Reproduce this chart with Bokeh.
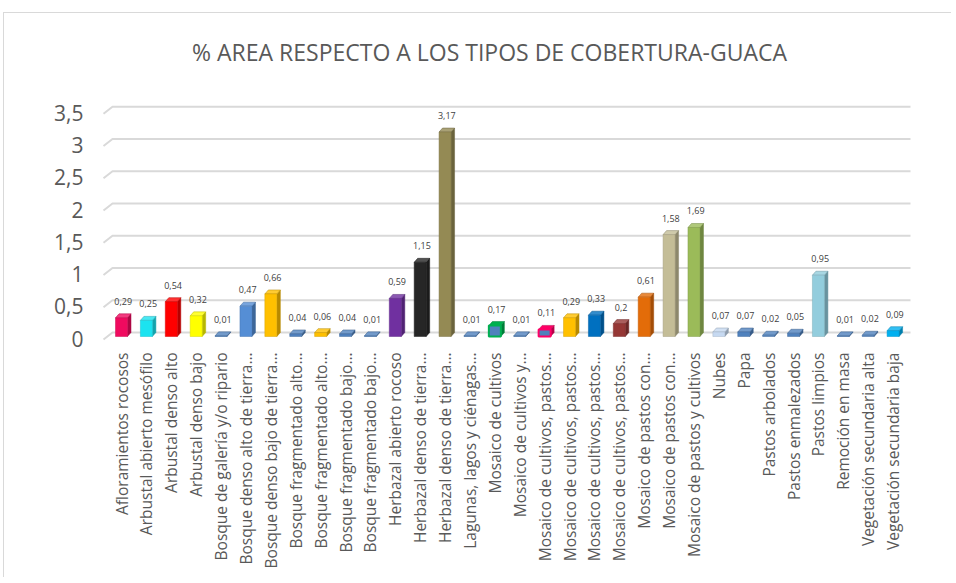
import numpy as np
from bokeh.plotting import figure
from bokeh.models import FixedTicker, LinearAxis, Range1d, ColumnDataSource
from bokeh.embed import file_html
from bokeh.resources import INLINE
from bokeh.core.properties import value

title_text = "% AREA RESPECTO A LOS TIPOS DE COBERTURA-GUACA"

categories = [
    "Afloramientos rocosos", "Arbustal abierto mesófilo", "Arbustal denso alto",
    "Arbustal denso bajo", "Bosque de galería y/o ripario", "Bosque denso alto de tierra…",
    "Bosque denso bajo de tierra…", "Bosque fragmentado alto…", "Bosque fragmentado alto…",
    "Bosque fragmentado bajo…", "Bosque fragmentado bajo…", "Herbazal abierto rocoso",
    "Herbazal denso de tierra…", "Herbazal denso de tierra…", "Lagunas, lagos y ciénagas…",
    "Mosaico de cultivos", "Mosaico de cultivos y…", "Mosaico de cultivos, pastos…",
    "Mosaico de cultivos, pastos…", "Mosaico de cultivos, pastos…", "Mosaico de cultivos, pastos…",
    "Mosaico de pastos con…", "Mosaico de pastos con…", "Mosaico de pastos y cultivos",
    "Nubes", "Papa", "Pastos arbolados", "Pastos enmalezados", "Pastos limpios",
    "Remoción en masa", "Vegetación secundaria alta", "Vegetación secundaria baja",
]

values = [0.29, 0.25, 0.54, 0.32, 0.01, 0.47, 0.66, 0.04, 0.06, 0.04, 0.01, 0.59,
          1.15, 3.17, 0.01, 0.17, 0.01, 0.11, 0.29, 0.33, 0.2, 0.61, 1.58, 1.69,
          0.07, 0.07, 0.02, 0.05, 0.95, 0.01, 0.02, 0.09]

colors = ["#F00A5F", "#1CE3F0", "#FF0000", "#FFFF00", "#4F81BD", "#558ED5", "#FFC000",
          "#4F81BD", "#FFC000", "#4F81BD", "#4F81BD", "#7030A0", "#262626", "#948A54",
          "#4F81BD", "#4F81BD", "#4F81BD", "#4F81BD", "#FFC000", "#0070C0", "#953735",
          "#E36C09", "#C4BD97", "#9BBB59", "#C6D9F1", "#4F81BD", "#4F81BD", "#4F81BD",
          "#93CDDD", "#4F81BD", "#4F81BD", "#00B0F0"]

edge_colors = [None] * 32
edge_colors[15] = "#00B050"
edge_colors[17] = "#FF0066"

y_ticks = [0, 0.5, 1, 1.5, 2, 2.5, 3, 3.5]
y_tick_labels = ["0", "0,5", "1", "1,5", "2", "2,5", "3", "3,5"]


def shade(hexc, f):
    h = hexc.lstrip("#")
    r, g, b = [int(h[i:i + 2], 16) for i in (0, 2, 4)]
    if f < 1:
        r, g, b = [int(c * f) for c in (r, g, b)]
    else:
        t = f - 1
        r, g, b = [int(c + (255 - c) * t) for c in (r, g, b)]
    return "#%02x%02x%02x" % (r, g, b)


PX_X = 24.89          # pixels per category
PX_Y = 64.5           # pixels per unit of value
x_start, x_end = -0.844, 31.78
y_start = -0.1395
y_end = 316 / PX_Y    # frame extended upward to hold the chart title
y_grid_top = 3.659    # visual top of the value area

p = figure(width=948, height=565, output_backend="svg", toolbar_location=None,
           x_range=Range1d(x_start, x_end), y_range=Range1d(y_start, y_end),
           min_border_left=96, min_border_right=40, min_border_top=7, min_border_bottom=233,
           y_axis_location=None, background_fill_color="white", border_fill_color="white")
p.styles = {"border-left": "1px solid #D9D9D9", "border-top": "1px solid #D9D9D9",
            "margin-left": "3px", "margin-top": "12px"}
p.outline_line_color = None
p.xgrid.visible = False
p.ygrid.visible = False

# chart title (text inside the extended frame, centred above the bars)
p.text(x=[x_start + 389 / PX_X], y=[285 / PX_Y], text=[title_text],
       text_align="center", text_baseline="middle", text_font=value("Open Sans"),
       text_font_size="23px", text_color="#595959")

# 3D-like gridlines (back wall, with slanted side-wall segment)
gx, gy = [], []
for v in y_ticks:
    gx.append([x_start + 3 / PX_X, x_start + 12 / PX_X, x_end - 2 / PX_X])
    gy.append([v - 3 / PX_Y, v + 4 / PX_Y, v + 4 / PX_Y])
p.multi_line(gx, gy, line_color="#D9D9D9", line_width=2)

# bars
xs = np.arange(len(values))
hw = 6.0 / PX_X
dx = 3.5 / PX_X
dy = 4.0 / PX_Y

side_xs, side_ys, top_xs, top_ys, side_c, top_c = [], [], [], [], [], []
for i, v in enumerate(values):
    x = xs[i]
    side_xs.append([x + hw, x + hw + dx, x + hw + dx, x + hw])
    side_ys.append([0, dy, v + dy, v])
    top_xs.append([x - hw, x - hw + dx, x + hw + dx, x + hw])
    top_ys.append([v, v + dy, v + dy, v])
    base = edge_colors[i] if edge_colors[i] else colors[i]
    side_c.append(shade(base, 0.72))
    top_c.append(shade(base, 1.2) if not edge_colors[i] else base)

p.patches(side_xs, side_ys, fill_color=side_c, line_color=side_c, line_width=0.5)
p.patches(top_xs, top_ys, fill_color=top_c, line_color=side_c, line_width=0.5)

front = ColumnDataSource(dict(
    left=xs - hw, right=xs + hw, top=values,
    fill=colors,
    line=[e if e else shade(c, 0.85) for e, c in zip(edge_colors, colors)],
    lw=[2 if e else 0.5 for e in edge_colors],
))
p.quad(left="left", right="right", bottom=0, top="top", fill_color="fill",
       line_color="line", line_width="lw", source=front)

labels = ColumnDataSource(dict(
    x=xs + dx / 2, y=[v + dy for v in values],
    t=[str(v).replace(".", ",") for v in values],
))
p.text(x="x", y="y", text="t", source=labels, text_align="center", text_baseline="bottom",
       y_offset=-9, text_font_size="9px", text_color="#404040", text_font=value("Open Sans"))

# x axis
p.xaxis.ticker = FixedTicker(ticks=list(range(len(categories))))
p.xaxis.major_label_overrides = {i: c for i, c in enumerate(categories)}
p.xaxis.major_label_orientation = np.pi / 2
p.xaxis.axis_line_color = None
p.xaxis.major_tick_line_color = None
p.xaxis.minor_tick_line_color = None
p.xaxis.major_label_standoff = 1
p.xaxis.major_label_text_font = "Open Sans"
p.xaxis.major_label_text_font_size = "15.5px"
p.xaxis.major_label_text_color = "#595959"

# y axis (labels on the front plane, slightly below the back-wall gridlines)
p.extra_y_ranges = {"lab": Range1d(y_start + 2 / PX_Y, y_end + 2 / PX_Y)}
yax = LinearAxis(y_range_name="lab", ticker=FixedTicker(ticks=y_ticks))
yax.major_label_overrides = {t: l for t, l in zip(y_ticks, y_tick_labels)}
yax.axis_line_color = None
yax.major_tick_line_color = None
yax.minor_tick_line_color = None
yax.major_label_standoff = 11
yax.major_label_text_font = "Open Sans"
yax.major_label_text_font_size = "21px"
yax.major_label_text_color = "#595959"
p.add_layout(yax, "left")

open("out.html", "w").write(file_html(p, INLINE))
